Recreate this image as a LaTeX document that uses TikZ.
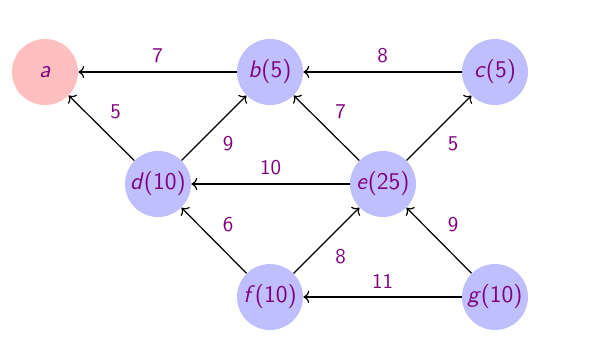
\documentclass[tikz,border=0pt]{standalone}
\usetikzlibrary{arrows.meta}
\definecolor{nodeblue}{RGB}{191,191,255}
\definecolor{nodered}{RGB}{255,191,191}
\definecolor{lblpurple}{RGB}{128,0,128}
\begin{document}
\begin{tikzpicture}[x=0.5pt,y=-0.5pt,
  vert/.style={circle,fill=nodeblue,minimum size=33pt,inner sep=0pt,text=lblpurple,font=\sffamily\fontsize{12}{14}\selectfont},
  start/.style={vert,fill=nodered},
  lbl/.style={text=lblpurple,font=\sffamily\fontsize{10.5}{12}\selectfont,inner sep=0pt},
  edge/.style={->,line width=0.6pt}]
\useasboundingbox (0,0) rectangle (600,345);
\node[start] (a) at (45,72) {\textsl{a}};
\node[vert] (b) at (270,72) {\textsl{b}(5)};
\node[vert] (c) at (495,72) {\textsl{c}(5)};
\node[vert] (d) at (158,184) {\textsl{d}(10)};
\node[vert] (e) at (383,184) {\textsl{e}(25)};
\node[vert] (f) at (270,297) {\textsl{f}(10)};
\node[vert] (g) at (495,297) {\textsl{g}(10)};
\draw[edge] (b) -- node[lbl,yshift=8pt] {7} (a);
\draw[edge] (c) -- node[lbl,yshift=8pt] {8} (b);
\draw[edge] (e) -- node[lbl,yshift=8pt] {10} (d);
\draw[edge] (g) -- node[lbl,yshift=8pt] {11} (f);
\draw[edge] (d) -- node[lbl,xshift=7pt,yshift=8pt] {5} (a);
\draw[edge] (d) -- node[lbl,xshift=7pt,yshift=-8pt] {9} (b);
\draw[edge] (e) -- node[lbl,xshift=7pt,yshift=8pt] {7} (b);
\draw[edge] (e) -- node[lbl,xshift=7pt,yshift=-8pt] {5} (c);
\draw[edge] (f) -- node[lbl,xshift=7pt,yshift=8pt] {6} (d);
\draw[edge] (f) -- node[lbl,xshift=7pt,yshift=-8pt] {8} (e);
\draw[edge] (g) -- node[lbl,xshift=7pt,yshift=8pt] {9} (e);
\end{tikzpicture}
\end{document}
